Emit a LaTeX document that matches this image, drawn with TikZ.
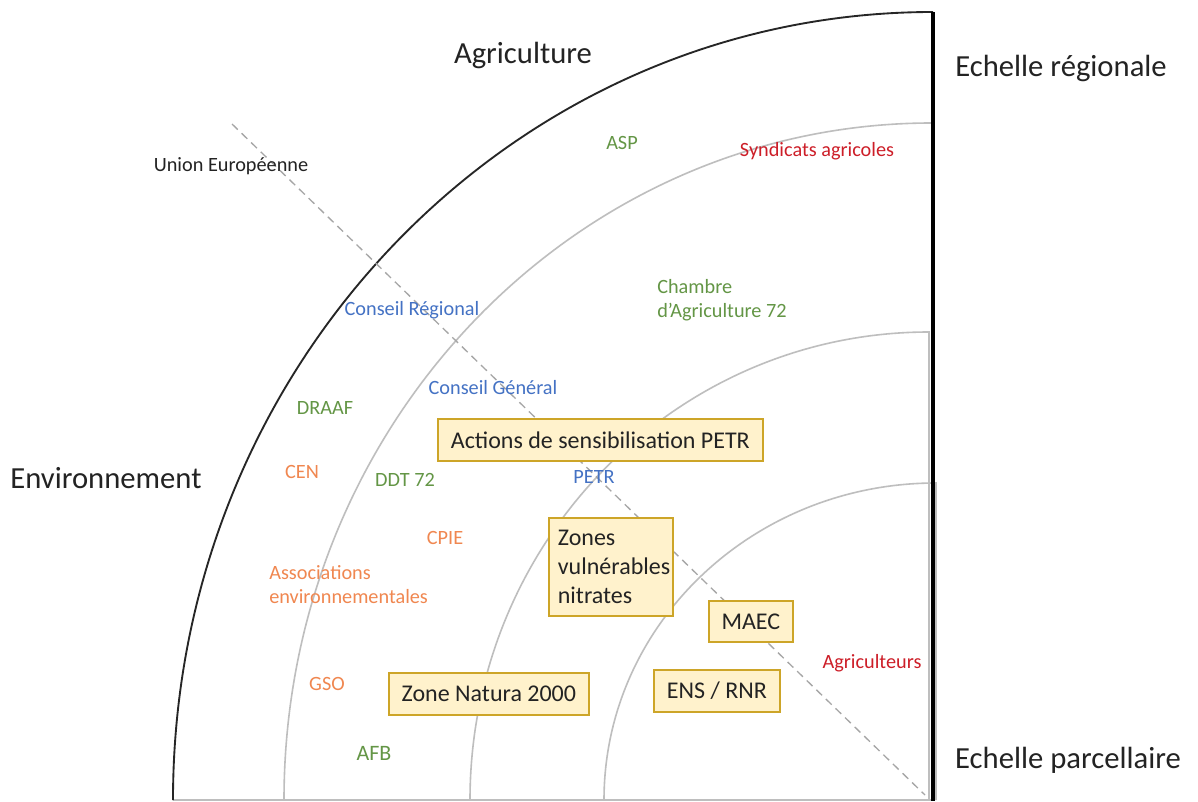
\documentclass[tikz,border=0pt]{standalone}
\usepackage{fontspec}
\setmainfont{Carlito}
\definecolor{cgreen}{RGB}{100,150,70}
\definecolor{cblue}{RGB}{68,114,196}
\definecolor{cred}{RGB}{205,30,40}
\definecolor{corange}{RGB}{240,135,80}
\definecolor{boxfill}{RGB}{255,242,204}
\definecolor{boxline}{RGB}{205,165,40}
\definecolor{ctext}{RGB}{35,35,35}
\definecolor{arcgray}{RGB}{190,190,190}
\tikzset{
  big/.style={font=\fontsize{23}{26}\selectfont, text=ctext, inner sep=0pt},
  lab/.style={font=\fontsize{15.2}{18}\selectfont, inner sep=0pt},
  grn/.style={lab, text=cgreen},
  blu/.style={lab, text=cblue},
  rd/.style={lab, text=cred},
  org/.style={lab, text=corange},
  mbox/.style={draw=boxline, line width=1.3pt, fill=boxfill, text=ctext,
    font=\fontsize{18}{21.5}\selectfont, inner sep=0pt, anchor=north west},
  ringarc/.style={draw=arcgray, line width=1.2pt},
}
\begin{document}
\begin{tikzpicture}[x=0.75pt,y=0.75pt]
\useasboundingbox (0,0) rectangle (1198,801);
\fill[white] (0,0) rectangle (1198,801);
% rings
\draw[ringarc] (932,678) arc[start angle=90, end angle=180, x radius=648, y radius=677];
\draw[ringarc] (929,1) -- (929,469) arc[start angle=90, end angle=180, x radius=459, y radius=468];
\draw[ringarc] (936,1) -- (936,318) arc[start angle=90, end angle=180, x radius=332, y radius=317];
\draw[ringarc] (173,1) -- (933,1);
\draw[black!85, line width=1.4pt] (933,789) arc[start angle=90, end angle=180, x radius=760, y radius=788];
\draw[black, line width=2.8pt] (933,789) -- (933,0);
% dashed diagonal
\coordinate (d1) at (232,677);
\coordinate (d2) at (925,6);
\draw[gray!70, dashed, line width=1pt, dash pattern=on 6pt off 4pt] (d1) -- (d2);
% big labels
\node[big] (agri) at (523,746) {Agriculture};
\node[big] (ereg) at (1061,733) {Echelle régionale};
\node[big] (env) at (106,323) {Environnement};
\node[big] (epar) at (1068,41) {Echelle parcellaire};
% actors
\node[lab, text=ctext] (ue) at (231,635) {Union Européenne};
\node[grn] (asp) at (622,658) {ASP};
\node[rd] (synd) at (817,650) {Syndicats agricoles};
\node[blu] (cr) at (412,491) {Conseil Régional};
\node[grn, align=left, anchor=west] (cha) at (657,501) {Chambre\\d’Agriculture 72};
\node[blu] (cg) at (493,413) {Conseil Général};
\node[grn] (draaf) at (325,393) {DRAAF};
\node[org] (cen) at (302,329) {CEN};
\node[grn] (ddt) at (405,321) {DDT 72};
\node[blu] (petr) at (594,324) {PETR};
\node[org] (cpie) at (445,263) {CPIE};
\node[org, align=left, anchor=west] (asso) at (269,216) {Associations\\environnementales};
\node[org] (gso) at (327,117) {GSO};
\node[grn, font=\fontsize{16.5}{18}\selectfont] (afb) at (374,48) {AFB};
\node[rd] (agr) at (872,138) {Agriculteurs};
% boxes
\node[mbox, minimum width=325*0.75pt, minimum height=42*0.75pt] (b1) at (437,383) {Actions de sensibilisation PETR};
\node[mbox, minimum width=124*0.75pt, minimum height=98*0.75pt, align=left, inner xsep=9*0.75pt, text width=106*0.75pt] (b2) at (548,284) {Zones\\vulnérables\\nitrates};
\node[mbox, minimum width=84*0.75pt, minimum height=41*0.75pt] (b3) at (708,201) {MAEC};
\node[mbox, minimum width=126*0.75pt, minimum height=42*0.75pt] (b4) at (653,132) {ENS / RNR};
\node[mbox, minimum width=200*0.75pt, minimum height=42*0.75pt] (b5) at (388,129) {Zone Natura 2000};
\end{tikzpicture}
\end{document}
